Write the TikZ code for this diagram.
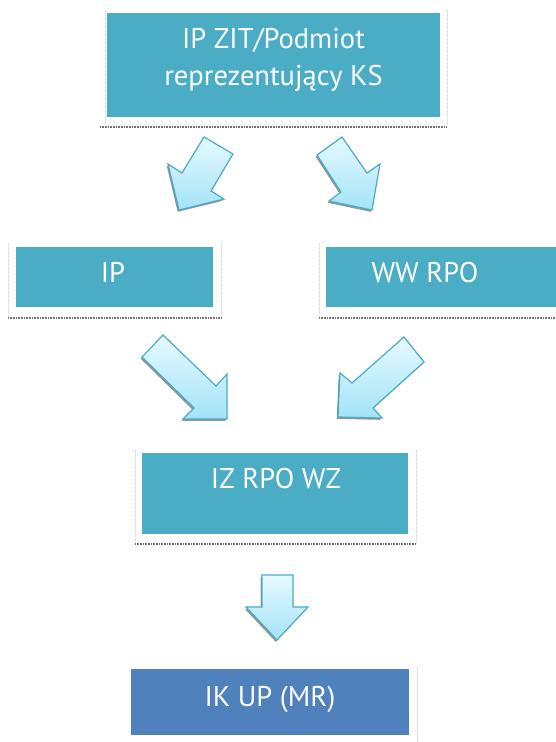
\documentclass[tikz,border=0pt]{standalone}
\usepackage{fontspec}
\setmainfont{PT Sans}
\usetikzlibrary{shadings}
\definecolor{boxteal}{HTML}{4BACC6}
\definecolor{boxblue}{HTML}{4F81BD}
\definecolor{arrline}{HTML}{4BACC6}
\definecolor{arrtop}{HTML}{E6F9FF}
\definecolor{arrbot}{HTML}{A3E3F8}
\tikzset{
  box/.style={draw=none, fill=boxteal, inner sep=0pt, anchor=north west},
  boxtext/.style={text=white, font=\fontsize{28.5}{37}\selectfont, anchor=base, inner sep=0pt},
  frameline/.style={draw=black!15, line width=0.5pt, dash pattern=on 3pt off 1pt},
  shadowline/.style={draw=black!55, line width=1.8pt, dash pattern=on 1pt off 0.6pt},
  blockarrow/.style={draw=arrline, line width=1.2pt, line join=miter, top color=arrtop, bottom color=arrbot},
  arrshadow/.style={fill=black!60, draw=none, fill opacity=0.7}
}
\def\arrA{(204,137) -- (233,154) -- (211,191) -- (224,199) -- (179,210) -- (168,164) -- (182,173) -- cycle}
\def\arrB{(342,137) -- (317,155) -- (341,192) -- (329,201) -- (372,210) -- (380,164) -- (367,173) -- cycle}
\def\arrC{(163,335) -- (142,357) -- (194,408) -- (183,419) -- (227,419) -- (227,374) -- (216,386) -- cycle}
\def\arrD{(404,337) -- (424,362) -- (373,408) -- (382,418) -- (338,417) -- (340,373) -- (352,383) -- cycle}
\def\arrE{(262,575) -- (293,575) -- (293,607) -- (308,607) -- (277,640) -- (246,607) -- (262,607) -- cycle}
\begin{document}
\begin{tikzpicture}[x=1pt,y=-1pt]
\useasboundingbox (0,0) rectangle (555,742);
\fill[white] (0,0) rectangle (555,742);

% ---- frames and shadows
\draw[frameline] (105,10) -- (105,125);
\draw[frameline] (447,10) -- (447,125);
\draw[shadowline] (100,127) -- (447,127);

\draw[frameline] (8,243) -- (8,317);
\draw[frameline] (221,243) -- (221,317);
\draw[shadowline] (8,318) -- (221,318);

\draw[frameline] (319,243) -- (319,317);
\draw[shadowline] (319,318) -- (555,318);

\draw[frameline] (135,450) -- (135,543);
\draw[frameline] (416,450) -- (416,543);
\draw[shadowline] (135,544) -- (416,544);

\draw[frameline] (417,667) -- (417,742);

% ---- boxes
\node[box, minimum width=333pt, minimum height=104pt] (top) at (107,13) {};
\node[box, minimum width=197pt, minimum height=60pt] (ip) at (16,247) {};
\node[box, minimum width=240pt, minimum height=60pt] (ww) at (326,247) {};
\node[box, minimum width=266pt, minimum height=81pt] (iz) at (142,453) {};
\node[box, fill=boxblue, minimum width=278pt, minimum height=66pt] (ik) at (131,669) {};

% ---- texts
\node[boxtext] (toptxt1) at (273.5,48) {IP ZIT/Podmiot};
\node[boxtext] (toptxt2) at (273.5,85) {reprezentujący KS};
\node[boxtext] (iptxt) at (113,282) {IP};
\node[boxtext] (wwtxt) at (425,282) {WW RPO};
\node[boxtext] (iztxt) at (276,488) {IZ RPO WZ};
\node[boxtext] (iktxt) at (270,706) {IK UP (MR)};

% ---- block arrows (shadow first)
\foreach \a in {\arrA,\arrB,\arrC,\arrD,\arrE}{
  \fill[arrshadow, shift={(-1.3,1.8)}] \a;
  \path[blockarrow] \a;
}
\end{tikzpicture}
\end{document}
